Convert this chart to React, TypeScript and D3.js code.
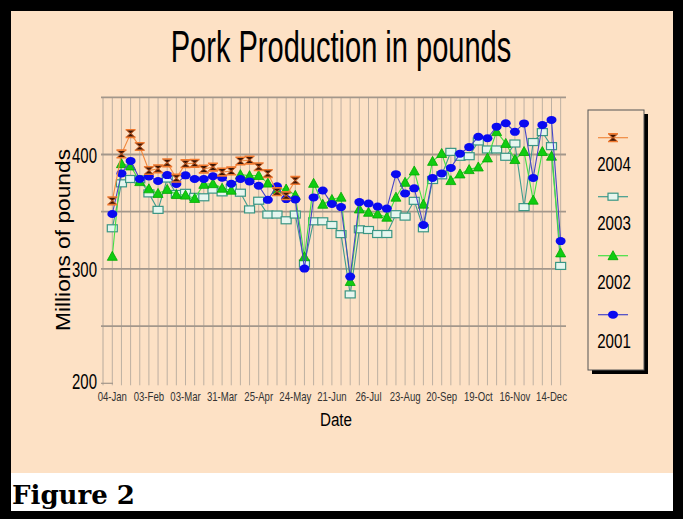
import * as d3 from 'd3';
import React from 'react';

const W = 683;
const H = 519;
const plot = { left: 103, right: 566, top: 97.3, bottom: 383.3 };

// weekly categories, one tick label every 4 weeks
const tickLabels = ['04-Jan', '03-Feb', '03-Mar', '31-Mar', '25-Apr', '24-May', '21-Jun',
  '26-Jul', '23-Aug', '20-Sep', '19-Oct', '16-Nov', '14-Dec'];
const weeks = d3.range(50);
const yTicks = [200, 300, 400];
const yGrid = [250, 300, 350, 400, 450];

const v2001 = [348, 383.5, 394.4, 378.6, 380.8, 376.8, 382, 374.3, 381.8, 378.6,
  378.6, 381, 379.7, 374.4, 378.6, 376.5, 372.7, 360.4, 372.2, 361,
  360.7, 300.3, 362.5, 368.5, 356.8, 354, 293.3, 358.4, 357.2, 354.5,
  352.7, 382.8, 366, 370.4, 338.4, 379.5, 383.5, 388.3, 400.7, 406.5,
  415.5, 414.2, 424.3, 427.3, 419.8, 427.2, 379.5, 425.8, 430.2, 324.3];
const v2002 = [311, 392, 390, 376.3, 370, 366, 369.5, 365, 364.5, 361.6,
  373.9, 374.5, 370.5, 368.8, 382.4, 381.5, 381.7, 375, 369.5, 369.8,
  364.3, 310.6, 374.8, 356.5, 360.7, 362.7, 289, 352.4, 349.5, 348,
  345.2, 362.7, 375.7, 385.6, 356.6, 394, 400.9, 377.2, 383, 386.8,
  389.1, 397, 420, 409.7, 395.6, 402.6, 360.1, 402.6, 398.5, 314];
const v2003 = [335.5, 374.8, 378.6, 378.3, 366, 351.6, 379, 365.5, 366.5, 363,
  362.6, 369.3, 366.9, 370.8, 366.6, 352, 359.6, 347.5, 347.5, 342.5,
  347.5, 304.7, 341.6, 341.6, 338.4, 330.4, 277.7, 334.6, 334, 330.5,
  330.5, 347.8, 345.7, 359.5, 335.5, 377.7, 381.8, 402.3, 398, 398.5,
  411.4, 404.4, 404.4, 398, 409.6, 354, 410.9, 419.6, 407.3, 302.6];
const v2004 = [359.5, 400.5, 418.3, 407, 386, 387.5, 392.7, 379.3, 392, 392.3,
  387.3, 389, 384.6, 385.6, 394.3, 395.1, 389.3, 383.3, 367.5, 364, 377.3];

const series = [
  { name: '2003', values: v2003, color: '#3f9c8e', marker: 'square' },
  { name: '2002', values: v2002, color: '#44e044', marker: 'triangle' },
  { name: '2001', values: v2001, color: '#4646c8', marker: 'ellipse' },
  { name: '2004', values: v2004, color: '#f08a40', marker: 'bowtie' },
];
const legendOrder = ['2004', '2003', '2002', '2001'];

const font = "'Liberation Sans', Arial, sans-serif";

function Marker({ kind, x, y }: { kind: string; x: number; y: number }) {
  const t = `translate(${x},${y})`;
  if (kind === 'square')
    return <rect transform={t} x={-5} y={-3.5} width={10} height={7} fill="#e6f6ef" stroke="#3a9684" strokeWidth={1.2} />;
  if (kind === 'triangle')
    return <path transform={t} d="M0,-5L5,4L-5,4Z" fill="#10cc10" stroke="#00a800" strokeWidth={0.8} />;
  if (kind === 'ellipse')
    return <ellipse transform={t} rx={5} ry={4} fill="#0a0af0" />;
  return (
    <g transform={t}>
      <path d="M-4.5,-3.5L4.5,-3.5L0.8,0L4.5,3.5L-4.5,3.5L-0.8,0Z" fill="#3a1606" />
      <path d="M-5,-3.8H5M-5,3.8H5" stroke="#f07a30" strokeWidth={1.6} />
      <path d="M-4,-3L0,0L-4,3M4,-3L0,0L4,3" stroke="#e0682a" strokeWidth={0.8} fill="none" />
    </g>
  );
}

export default function App() {
  const x = d3.scalePoint<number>().domain(weeks).range([112.3, 560.65]);
  const y = d3.scaleLinear().domain([200, 450]).range([plot.bottom, plot.top]);
  const line = d3.line<number>().x((_, i) => x(i)!).y(d => y(d));

  return (
    <svg width={W} height={H} style={{ position: 'absolute', left: 0, top: 0 }}>
      <rect x={0} y={0} width={W} height={H} fill="#000" />
      <rect x={11} y={11} width={662} height={462} fill="#fde1c5" />
      <rect x={11} y={473} width={662} height={38} fill="#fff" />

      <text transform="translate(341,62) scale(0.66,1)" textAnchor="middle" fontFamily={font} fontSize={44}>
        Pork Production in pounds
      </text>

      {/* grid */}
      <line x1={plot.left} x2={plot.left} y1={plot.top} y2={plot.bottom + 2} stroke="#b7aa9c" />
      {weeks.map(i => (
        <line key={i} x1={x(i)} x2={x(i)} y1={plot.top} y2={plot.bottom + 2} stroke="#bdb0a2" strokeWidth={1} />
      ))}
      {yGrid.map(v => (
        <line key={v} x1={101} x2={plot.right} y1={y(v)} y2={y(v)} stroke="#a3978b" strokeWidth={1.8} />
      ))}
      <line x1={101} x2={113} y1={y(200)} y2={y(200)} stroke="#a3978b" strokeWidth={1.2} />

      {yTicks.map(v => (
        <text key={v} transform={`translate(97,${y(v) + (v === 200 ? 6 : 8)}) scale(0.68,1)`} textAnchor="end"
          fontFamily={font} fontSize={22}>{v}</text>
      ))}
      {tickLabels.map((lab, k) => (
        <text key={lab} transform={`translate(${x(k * 4)},401) scale(0.8,1)`} textAnchor="middle"
          fontFamily={font} fontSize={12} fill="#333">{lab}</text>
      ))}
      <text transform="translate(336,426) scale(0.8,1)" textAnchor="middle" fontFamily={font} fontSize={19}>Date</text>
      <text transform="translate(70,240) rotate(-90)" textAnchor="middle" fontFamily={font} fontSize={21}
        textLength={182} lengthAdjust="spacingAndGlyphs">Millions of pounds</text>

      {/* series */}
      {series.map(s => (
        <g key={s.name}>
          <path d={line(s.values)!} fill="none" stroke={s.color} strokeWidth={1.1} />
          {s.values.map((v, i) => <Marker key={i} kind={s.marker} x={x(i)!} y={y(v)} />)}
        </g>
      ))}

      {/* legend */}
      <rect x={592} y={114} width={56} height={260} fill="#000" />
      <rect x={588} y={110} width={56} height={260} fill="#fde1c5" stroke="#555" strokeWidth={1} />
      {legendOrder.map((name, k) => {
        const s = series.find(d => d.name === name)!;
        const ly = 137.7 + k * 59;
        return (
          <g key={name}>
            <line x1={598} x2={628} y1={ly} y2={ly} stroke={s.color} strokeWidth={1.2} />
            <Marker kind={s.marker} x={613} y={ly} />
            <text transform={`translate(614,${ly + 33}) scale(0.72,1)`} textAnchor="middle"
              fontFamily={font} fontSize={21}>{name}</text>
          </g>
        );
      })}

      <text x={12} y={504} fontFamily="'DejaVu Serif', serif" fontWeight="bold" fontSize={26}
        textLength={123} lengthAdjust="spacingAndGlyphs">Figure 2</text>
    </svg>
  );
}
